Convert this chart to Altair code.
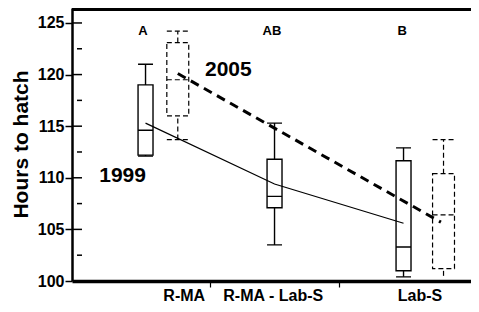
import altair as alt
import pandas as pd

# ---- data ----
box_group = ["R-MA", "R-MA", "R-MA - Lab-S", "Lab-S", "Lab-S"]
box_year = ["1999", "2005", "1999", "1999", "2005"]
box_pos = [1.0, 1.25, 2.0, 3.0, 3.31]
box_min = [112.1, 113.7, 103.5, 100.4, 100.5]
box_q1 = [112.2, 116.0, 107.1, 101.0, 101.2]
box_med = [114.6, 119.5, 108.2, 103.3, 106.4]
box_q3 = [119.0, 123.1, 111.8, 111.65, 110.4]
box_max = [121.0, 124.2, 115.3, 112.9, 113.7]
box_min_cap = [True, True, True, True, False]

mean_year = ["1999", "1999", "1999", "2005", "2005"]
mean_pos = [1.0, 2.0, 3.0, 1.25, 3.29]
mean_val = [115.3, 109.4, 105.6, 120.1, 105.7]

sig_letters = ["A", "AB", "B"]
sig_pos = [0.98, 1.98, 2.99]
sig_val = [124.2, 124.2, 124.2]

cat_labels = ["R-MA", "R-MA - Lab-S", "Lab-S"]
cat_label_pos = [1.30, 1.99, 3.128]
cat_label_val = [98.1, 98.1, 98.1]

year_labels = ["2005", "1999"]
year_label_pos = [1.461, 0.822]
year_label_val = [120.4, 110.2]

y_major = [100, 105, 110, 115, 120, 125]
y_minor = [102.5, 107.5, 112.5, 117.5, 122.5]
x_ticks = [1.5, 2.5]

# ---- styling ----
FONT = "Liberation Sans"
W, H = 399, 273
half_width = {"1999": 0.058, "2005": 0.085}
box_dash = {"1999": [1, 0], "2005": [5, 3]}
box_sw = {"1999": 1.4, "2005": 1.2}

boxes = pd.DataFrame({
    "group": box_group, "year": box_year, "pos": box_pos,
    "min": box_min, "q1": box_q1, "med": box_med, "q3": box_q3,
    "max": box_max, "mincap": box_min_cap,
})
boxes["lo"] = boxes["pos"] - boxes["year"].map(half_width)
boxes["hi"] = boxes["pos"] + boxes["year"].map(half_width)

means = pd.DataFrame({"year": mean_year, "pos": mean_pos, "val": mean_val})
sig = pd.DataFrame({"t": sig_letters, "pos": sig_pos, "val": sig_val})
cats = pd.DataFrame({"t": cat_labels, "pos": cat_label_pos, "val": cat_label_val})
years = pd.DataFrame({"t": year_labels, "pos": year_label_pos, "val": year_label_val})

xs = alt.Scale(domain=[0.43, 3.523], nice=False, zero=False)
ys = alt.Scale(domain=[100, 126.45], nice=False, zero=False)

xaxis = alt.Axis(values=x_ticks, labels=False, tickSize=6, tickWidth=1.2,
                 domainWidth=3.5, title=None, grid=False)
yaxis = alt.Axis(values=y_major, tickSize=7, tickWidth=1.5, domainWidth=2.5,
                 labelFontSize=16, labelFontWeight="bold", labelPadding=1,
                 title="Hours to hatch", titleFontSize=21, titleFontWeight="bold",
                 titleAngle=270, titleX=-45, titleY=136, titleBaseline="alphabetic",
                 titleAlign="center", grid=False)


def X(f):
    return alt.X(f, type="quantitative", scale=xs, axis=xaxis)


def Y(f):
    return alt.Y(f, type="quantitative", scale=ys, axis=yaxis)


layers = []
for yr in ["1999", "2005"]:
    d = boxes[boxes["year"] == yr]
    dash = box_dash[yr]
    sw = box_sw[yr]
    base = alt.Chart(d)
    layers.append(base.mark_rect(fill="white", fillOpacity=0, stroke="black",
                                 strokeWidth=sw, strokeDash=dash)
                  .encode(x=X("lo"), x2="hi", y=Y("q1"), y2="q3"))
    layers.append(base.mark_rule(color="black", strokeWidth=sw, strokeDash=dash)
                  .encode(x=X("pos"), y=Y("q3"), y2="max"))
    layers.append(base.mark_rule(color="black", strokeWidth=sw, strokeDash=dash)
                  .encode(x=X("pos"), y=Y("min"), y2="q1"))
    layers.append(base.mark_rule(color="black", strokeWidth=sw, strokeDash=dash)
                  .encode(x=X("lo"), x2="hi", y=Y("med")))
    layers.append(base.mark_rule(color="black", strokeWidth=sw, strokeDash=dash)
                  .encode(x=X("lo"), x2="hi", y=Y("max")))
    layers.append(alt.Chart(d[d["mincap"]]).mark_rule(color="black", strokeWidth=sw, strokeDash=dash)
                  .encode(x=X("lo"), x2="hi", y=Y("min")))

# mean lines
layers.append(alt.Chart(means[means["year"] == "1999"]).mark_line(color="black", strokeWidth=1.2)
              .encode(x=X("pos"), y=Y("val")))
layers.append(alt.Chart(means[means["year"] == "2005"]).mark_line(color="black", strokeWidth=3,
                                                                   strokeDash=[9, 6])
              .encode(x=X("pos"), y=Y("val")))

# inner tick marks
layers.append(alt.Chart(pd.DataFrame({"v": y_major[1:]})).mark_rule(color="black", strokeWidth=1.5)
              .encode(y=Y("v"), x=alt.value(0), x2=alt.value(10)))
layers.append(alt.Chart(pd.DataFrame({"v": y_minor})).mark_rule(color="black", strokeWidth=1.5)
              .encode(y=Y("v"), x=alt.value(5), x2=alt.value(10)))

# top frame line
layers.append(alt.Chart(pd.DataFrame({"v": [0]})).mark_rule(color="black", strokeWidth=3)
              .encode(x=alt.value(0), x2=alt.value(W), y=alt.value(1.5)))

# texts
layers.append(alt.Chart(sig).mark_text(font=FONT, fontSize=13, fontWeight="bold", color="black",
                                       align="center", baseline="middle")
              .encode(x=X("pos"), y=Y("val"), text="t:N"))
layers.append(alt.Chart(cats).mark_text(font=FONT, fontSize=16, fontWeight="bold", color="black",
                                        align="center", baseline="alphabetic")
              .encode(x=X("pos"), y=Y("val"), text="t:N"))
layers.append(alt.Chart(years.iloc[[0]]).mark_text(font=FONT, fontSize=21, fontWeight="bold", color="black",
                                                   align="left", baseline="middle")
              .encode(x=X("pos"), y=Y("val"), text="t:N"))
layers.append(alt.Chart(years.iloc[[1]]).mark_text(font=FONT, fontSize=21, fontWeight="bold", color="black",
                                                   align="center", baseline="middle")
              .encode(x=X("pos"), y=Y("val"), text="t:N"))

chart = alt.layer(*layers).properties(
    width=W, height=H,
    autosize=alt.AutoSizeParams(type="none"),
    padding={"left": 64, "top": 0, "right": 0, "bottom": 23},
    background="white",
).configure_view(stroke=None).configure_axis(
    labelFont=FONT, titleFont=FONT, domainColor="black", tickColor="black",
    labelColor="black", titleColor="black",
)

chart.save("out.html", embed_options={"renderer": "svg", "actions": False})
